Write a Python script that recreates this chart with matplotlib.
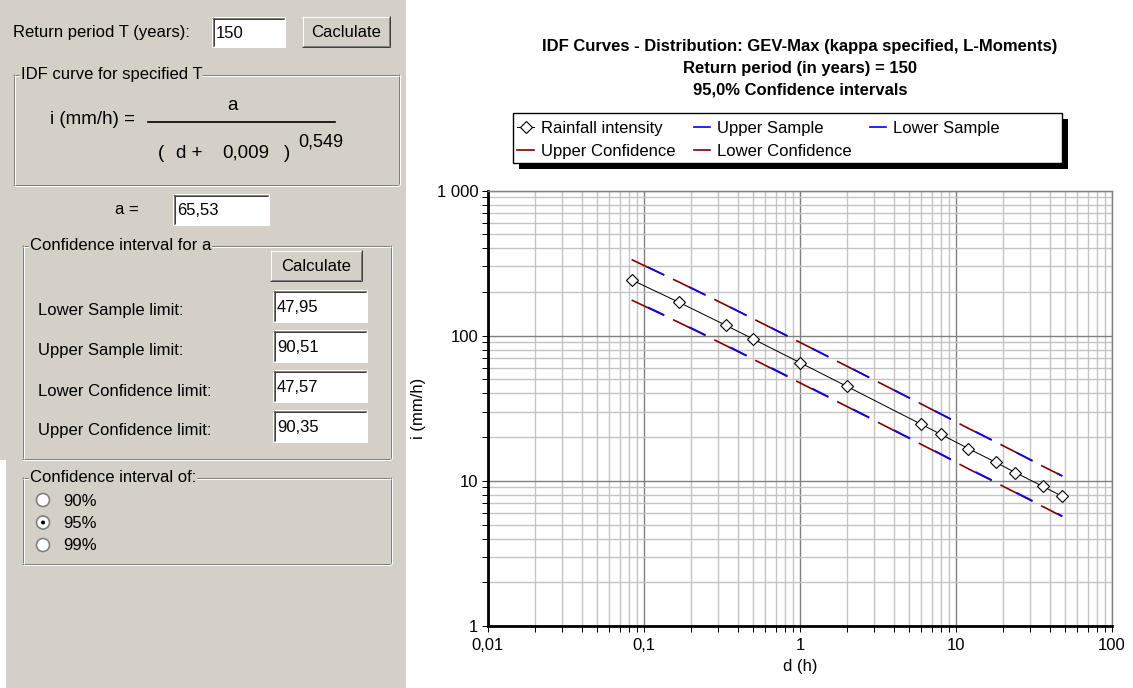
import matplotlib
matplotlib.use('Agg')
import matplotlib.pyplot as plt
from matplotlib.patches import Rectangle, Circle
from matplotlib.lines import Line2D

plt.rcParams['font.family'] = ['Liberation Sans', 'DejaVu Sans']
plt.rcParams['lines.scale_dashes'] = False

# chart data
duration_h = [0.0833, 0.1667, 0.3333, 0.5, 1, 2, 6, 8, 12, 18, 24, 36, 48]
intensity = [242.4, 170.2, 118.1, 94.9, 65.2, 44.7, 24.5, 20.9, 16.7, 13.4, 11.4, 9.16, 7.82]
upper_sample = [334.8, 235.1, 163.1, 131.1, 90.0, 61.7, 33.8, 28.9, 23.1, 18.5, 15.8, 12.65, 10.8]
upper_conf = [334.2, 234.6, 162.8, 130.8, 89.9, 61.6, 33.8, 28.8, 23.0, 18.5, 15.8, 12.6, 10.8]
lower_sample = [177.4, 124.5, 86.4, 69.4, 47.7, 32.7, 17.9, 15.3, 12.2, 9.8, 8.37, 6.70, 5.72]
lower_conf = [176.0, 123.6, 85.7, 68.9, 47.3, 32.5, 17.8, 15.2, 12.1, 9.73, 8.31, 6.65, 5.68]

x_ticks = [0.01, 0.1, 1, 10, 100]
x_labels = ['0,01', '0,1', '1', '10', '100']
y_ticks = [1, 10, 100, 1000]
y_labels = ['1', '10', '100', '1 000']

title_lines = ['IDF Curves - Distribution: GEV-Max (kappa specified, L-Moments)',
               'Return period (in years) = 150',
               '95,0% Confidence intervals']

# form panel values
return_period = '150'
a_value = '65,53'
c_value = '0,009'
n_value = '0,549'
limit_names = ['Lower Sample limit:', 'Upper Sample limit:',
               'Lower Confidence limit:', 'Upper Confidence limit:']
limit_values = ['47,95', '90,51', '47,57', '90,35']
ci_options = ['90%', '95%', '99%']
ci_selected = '95%'

W, H = 1133, 688
GRAY = '#D4D0C8'
DARKRED = '#800000'
BLUE = '#0000FF'
PX = 0.72  # one pixel in points at dpi 100
UI_FS = 12
FS = 12

fig = plt.figure(figsize=(W / 100, H / 100), dpi=100)
fig.patch.set_facecolor('white')

# ---------- left form panel ----------
ui = fig.add_axes([0, 0, 1, 1])
ui.set_xlim(0, W)
ui.set_ylim(H, 0)
ui.axis('off')

ui.add_patch(Rectangle((0, 0), 406, 460, color=GRAY, lw=0))
ui.add_patch(Rectangle((6, 0), 400, H, color=GRAY, lw=0))


def hline(x0, x1, y, c):
    ui.plot([x0, x1], [y, y], color=c, lw=PX, solid_capstyle='butt')


def vline(x, y0, y1, c):
    ui.plot([x, x], [y0, y1], color=c, lw=PX, solid_capstyle='butt')


def textbox(x0, y0, x1, y1, txt):
    ui.add_patch(Rectangle((x0, y0), x1 - x0, y1 - y0, color='white', lw=0))
    hline(x0, x1, y0 + 0.5, '#808080')
    vline(x0 + 0.5, y0, y1, '#808080')
    hline(x0 + 1, x1 - 1, y0 + 1.5, '#404040')
    vline(x0 + 1.5, y0 + 1, y1 - 1, '#404040')
    hline(x0, x1, y1 - 0.5, 'white')
    vline(x1 - 0.5, y0, y1, 'white')
    ui.text(x0 + 4, (y0 + y1) / 2 + 1, txt, fontsize=UI_FS, va='center', ha='left')


def button(x0, y0, x1, y1, txt):
    ui.add_patch(Rectangle((x0, y0), x1 - x0, y1 - y0, color=GRAY, lw=0))
    hline(x0, x1, y0 + 0.5, 'white')
    vline(x0 + 0.5, y0, y1, 'white')
    hline(x0, x1, y1 - 0.5, '#404040')
    vline(x1 - 0.5, y0, y1, '#404040')
    hline(x0 + 1, x1 - 1, y1 - 1.5, '#808080')
    vline(x1 - 1.5, y0 + 1, y1 - 1, '#808080')
    ui.text((x0 + x1) / 2, (y0 + y1) / 2 + 1, txt, fontsize=UI_FS, va='center', ha='center')


def groupbox(x0, y0, x1, y1, title):
    for off, c in ((0, '#808080'), (1, 'white')):
        hline(x0 + off, x1 + off, y0 + 0.5 + off, c)
        hline(x0 + off, x1 + off, y1 + 0.5 + off, c)
        vline(x0 + 0.5 + off, y0 + off, y1 + off, c)
        vline(x1 + 0.5 + off, y0 + off, y1 + off, c)
    ui.text(x0 + 8, y0, title, fontsize=UI_FS, va='center', ha='left', zorder=5,
            bbox=dict(facecolor=GRAY, edgecolor='none', pad=0.5))


# return period row
ui.text(13, 32, 'Return period T (years):', fontsize=UI_FS, va='center')
textbox(212, 17, 285, 47, return_period)
button(302, 16, 390, 47, 'Caclulate')

# IDF curve group
groupbox(13, 74, 398, 184, 'IDF curve for specified T')
ui.text(50, 119, 'i (mm/h) =', fontsize=13.5, va='center')
ui.plot([148, 335], [122, 122], color='black', lw=1.2)
ui.text(233, 105, 'a', fontsize=13.5, va='center', ha='center')
ui.text(158, 153, '(', fontsize=13.5, va='center')
ui.text(176, 153, 'd +', fontsize=13.5, va='center')
ui.text(222, 153, c_value, fontsize=13.5, va='center')
ui.text(284, 153, ')', fontsize=13.5, va='center')
ui.text(298, 142, n_value, fontsize=13, va='center')

# a value
ui.text(115, 209, 'a =', fontsize=UI_FS, va='center')
textbox(173, 194, 269, 225, a_value)

# confidence interval for a
groupbox(22, 245, 390, 458, 'Confidence interval for a')
button(270, 250, 362, 281, 'Calculate')
for k, (name, val) in enumerate(zip(limit_names, limit_values)):
    yc = 310 + 40 * k
    ui.text(38, yc + 1, name, fontsize=UI_FS, va='center')
    textbox(273, yc - 20, 367, yc + 12, val)

# confidence level group
groupbox(22, 477, 390, 563, 'Confidence interval of:')
for k, opt in enumerate(ci_options):
    yc = 500 + 22.5 * k
    ui.add_patch(Circle((43, yc), 6.5, facecolor='white', edgecolor='#808080', lw=1.2))
    if opt == ci_selected:
        ui.add_patch(Circle((43, yc), 2, facecolor='black', edgecolor='none'))
    ui.text(63, yc + 1, opt, fontsize=UI_FS, va='center')

# legend frame with hard shadow (drawn in pixel space)
ui.add_patch(Rectangle((519, 119), 549, 50, color='black', lw=0))
ui.add_patch(Rectangle((513, 113), 549, 50, facecolor='white', edgecolor='black', lw=1.0))

# ---------- IDF chart ----------
ax = fig.add_axes([488 / W, 1 - 626 / H, 624 / W, (626 - 190.5) / H])
ax.set_xscale('log')
ax.set_yscale('log')
ax.set_xlim(0.01, 100)
ax.set_ylim(1, 1000)

ax.grid(True, which='major', color='#808080', lw=1.0)
ax.grid(True, which='minor', color='#C4C4C4', lw=1.0)
ax.set_axisbelow(True)

ax.set_xticks(x_ticks, x_labels)
ax.set_yticks(y_ticks, y_labels)
ax.tick_params(which='both', direction='out', length=4, width=PX, color='black',
               labelsize=FS, pad=3)
ax.tick_params(axis='x', pad=5)

for s in ('top', 'right'):
    ax.spines[s].set_color('#808080')
    ax.spines[s].set_linewidth(1.0)
for s in ('left', 'bottom'):
    ax.spines[s].set_color('black')
    ax.spines[s].set_linewidth(2.0)

dash = (26, 7)
ax.plot(duration_h, upper_conf, color=DARKRED, lw=1.2, linestyle=(0, dash))
ax.plot(duration_h, upper_sample, color=BLUE, lw=1.2, linestyle=(20, (13, 20)))
ax.plot(duration_h, lower_conf, color=DARKRED, lw=1.2, linestyle=(0, dash))
ax.plot(duration_h, lower_sample, color=BLUE, lw=1.2, linestyle=(20, (13, 20)))
ax.plot(duration_h, intensity, color='black', lw=PX, marker='D', markersize=6.5,
        markerfacecolor='white', markeredgecolor='black', markeredgewidth=0.8)

ax.set_xlabel('d (h)', fontsize=FS, labelpad=4)
ax.set_ylabel('i (mm/h)', fontsize=FS, labelpad=8)

for k, line in enumerate(title_lines):
    fig.text(800 / W, 1 - (46 + 22 * k) / H, line, fontsize=12, fontweight='bold',
             ha='center', va='center')

handles = [
    Line2D([], [], color='black', lw=PX, marker='D', markersize=6,
           markerfacecolor='white', markeredgecolor='black', markeredgewidth=0.8),
    Line2D([], [], color=DARKRED, lw=1.2),
    Line2D([], [], color=BLUE, lw=1.2),
    Line2D([], [], color=DARKRED, lw=1.2),
    Line2D([], [], color=BLUE, lw=1.2),
]
labels = ['Rainfall intensity', 'Upper Confidence', 'Upper Sample',
          'Lower Confidence', 'Lower Sample']
leg = fig.legend(handles, labels, loc='upper left', ncol=3,
                 bbox_to_anchor=(514 / W, 1 - 118 / H), fontsize=FS,
                 frameon=False, borderpad=0.2, labelspacing=0.45, handlelength=1.0,
                 handletextpad=0.4, columnspacing=1.1, borderaxespad=0)

fig.savefig('out.png', dpi=100)
